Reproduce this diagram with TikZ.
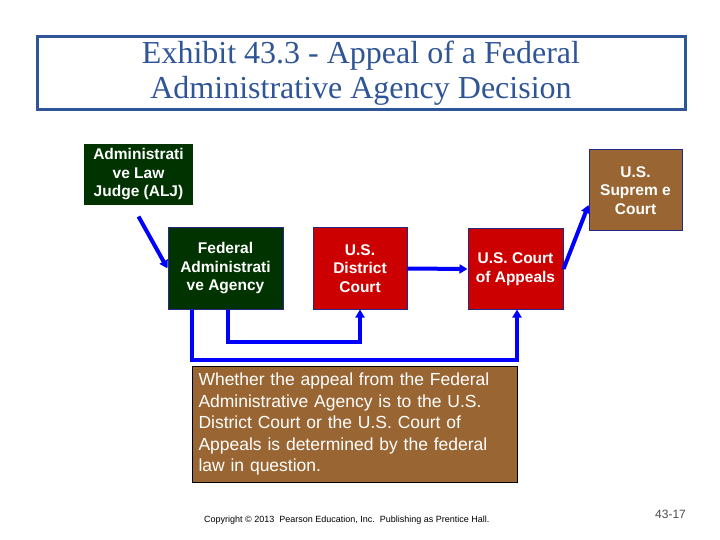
\documentclass[tikz,border=0pt]{standalone}
\usepackage{fontspec}
\setmainfont{Liberation Sans}
\newfontfamily\titlefont{Liberation Serif}
\usetikzlibrary{arrows.meta}
\definecolor{titleblue}{RGB}{47,85,151}
\definecolor{dkgreen}{RGB}{0,51,0}
\definecolor{ctred}{RGB}{204,0,0}
\definecolor{brownbox}{RGB}{153,102,51}
\definecolor{edgeblue}{RGB}{40,40,130}
\definecolor{arrblue}{RGB}{0,0,255}
\tikzset{
  box/.style={draw=edgeblue, line width=1pt, align=center, text=white,
    font=\fontsize{15.5}{18.5}\selectfont\bfseries, inner sep=2pt},
  arr/.style={draw=arrblue, line width=4pt, -{Triangle[length=8pt,width=9pt]}},
}
\begin{document}
\begin{tikzpicture}[x=1pt,y=-1pt]
\useasboundingbox (0,0) rectangle (720,540);
% title
\node[draw=titleblue, line width=3pt, minimum width=648pt, minimum height=73pt,
  text=titleblue, align=center, font=\titlefont\fontsize{32}{35}\selectfont]
  (title) at (361,73.5) {Exhibit 43.3 - Appeal of a Federal\\Administrative Agency Decision};
% nodes
\node[box, draw=none, fill=dkgreen, minimum width=109pt, minimum height=61pt] (alj) at (138.5,174.5) {Administrati\\ve Law\\Judge (ALJ)};
\node[box, fill=dkgreen, minimum width=115pt, minimum height=81pt] (agency) at (225.5,268.5) {Federal\\Administrati\\ve Agency};
\node[box, fill=ctred, minimum width=94pt, minimum height=81pt] (district) at (360,268.5) {U.S.\\District\\Court};
\node[box, fill=ctred, minimum width=95pt, minimum height=80pt] (appeals) at (515.5,269) {U.S. Court\\of Appeals};
\node[box, fill=brownbox, minimum width=93pt, minimum height=81pt] (supreme) at (635.5,190.5) {U.S.\\Suprem e\\Court};
\node[draw=black, line width=1pt, fill=brownbox, minimum width=325pt, minimum height=116pt,
  text=white, align=left, text width=312pt, font=\fontsize{17.5}{21.5}\selectfont]
  (note) at (354.5,424) {Whether the appeal from the Federal\\Administrative Agency is to the U.S.\\District Court or the U.S. Court of\\Appeals is determined by the federal\\law in question.};
% connectors
\draw[arr] ([yshift=-11pt]alj.south) -- (agency.west);
\draw[arr] (district.east) -- (appeals.west);
\draw[arr] (appeals.east) -- ([yshift=-14.5pt]supreme.west);
\draw[arr] ([xshift=2.5pt]agency.south) |- (360,342) -- (district.south);
\draw[arr] ([xshift=-33.5pt]agency.south) |- (517,360) -- ([xshift=1.5pt]appeals.south);
% footer
\node[anchor=west, font=\fontsize{9}{10}\selectfont, inner sep=0pt] (copy) at (204,520) {Copyright © 2013\ \ Pearson Education, Inc.\ \ Publishing as Prentice Hall.};
\node[anchor=west, font=\fontsize{12}{13}\selectfont, text=black!70, inner sep=0pt] (page) at (655,514) {43-17};
\end{tikzpicture}
\end{document}
